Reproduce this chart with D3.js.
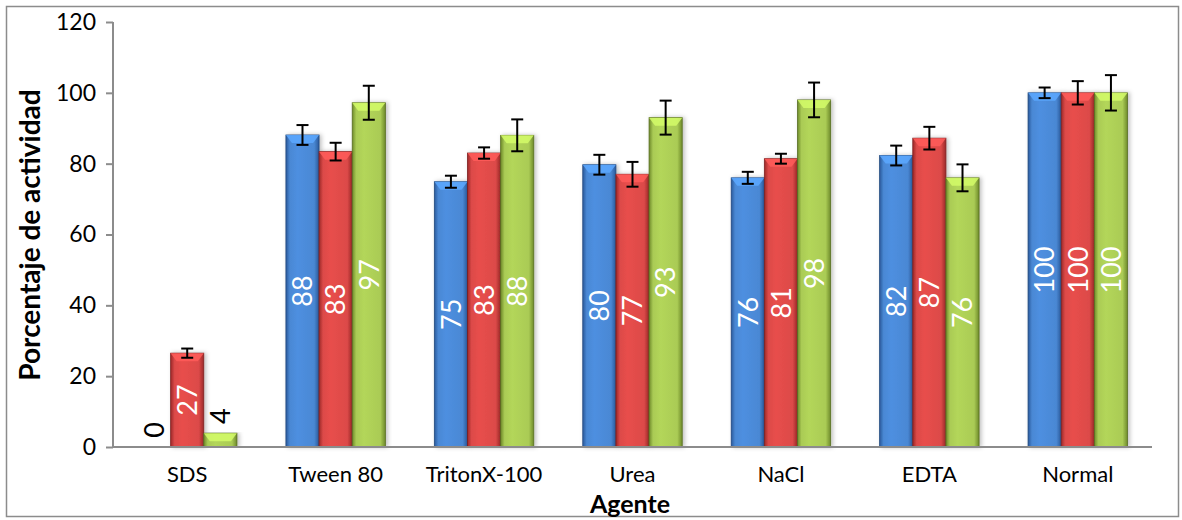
<!DOCTYPE html>
<html><head><meta charset="utf-8">
<script src="https://cdn.jsdelivr.net/npm/d3@7"></script>
<style>body{margin:0;background:#fff}svg{display:block}text{font-family:Lato,"Open Sans",sans-serif}</style>
</head><body>
<svg id="c" width="1182" height="520"></svg>
<script>
const categories = ["SDS","Tween 80","TritonX-100","Urea","NaCl","EDTA","Normal"];
const seriesA = [0, 88.1, 74.9, 79.7, 76, 82.3, 100];
const seriesB = [26.5, 83.4, 83, 77, 81.4, 87.2, 100];
const seriesC = [3.9, 97.2, 88, 93, 98, 76, 100];
const errA = [0, 2.8, 1.7, 2.8, 1.7, 2.8, 1.5];
const errB = [1.3, 2.5, 1.6, 3.5, 1.4, 3.2, 3.3];
const errC = [0, 4.8, 4.5, 4.8, 4.9, 3.8, 5];
const yTicks = [0,20,40,60,80,100,120];
const seriesNames = ["A","B","C"];
const colors = {A:["#2a5a9c","#4a88d4"], B:["#9c2828","#dc4a48"], C:["#6e8a2a","#aacb55"]};

const svg = d3.select("#c");
const m = {l:113, r:1152, t:22, b:447};
svg.append("rect").attr("x",6.5).attr("y",6.5).attr("width",1172).attr("height",510)
  .attr("fill","#fff").attr("stroke","#8c8c8c").attr("stroke-width",1.5);

const x0 = d3.scaleBand().domain(categories).range([m.l,m.r]).paddingInner(0.33).paddingOuter(0.165);
const x1 = d3.scaleBand().domain(seriesNames).range([0,x0.bandwidth()]);
const y = d3.scaleLinear().domain([0,120]).range([m.b,m.t]);

const defs = svg.append("defs");
seriesNames.forEach(s=>{
  const g = defs.append("linearGradient").attr("id","g"+s).attr("x1","0").attr("x2","1").attr("y1","0").attr("y2","0");
  const [dk,lt] = colors[s];
  g.append("stop").attr("offset","0").attr("stop-color",dk);
  g.append("stop").attr("offset","0.12").attr("stop-color",lt);
  g.append("stop").attr("offset","0.35").attr("stop-color",d3.color(lt).brighter(0.15));
  g.append("stop").attr("offset","0.85").attr("stop-color",lt);
  g.append("stop").attr("offset","1").attr("stop-color",dk);
});
const f = defs.append("filter").attr("id","sh").attr("x","-20%").attr("y","-5%").attr("width","140%").attr("height","110%");
f.append("feDropShadow").attr("dx",2).attr("dy",0).attr("stdDeviation",2).attr("flood-color","#000").attr("flood-opacity",0.25);

// axes
const yAxis = svg.append("g").attr("transform",`translate(${m.l},0)`)
  .call(d3.axisLeft(y).tickValues(yTicks).tickSize(7).tickPadding(10));
yAxis.select(".domain").attr("stroke","#8c8c8c").attr("stroke-width",2).attr("d",`M0,${m.t}V${m.b}`);
yAxis.selectAll(".tick line").attr("stroke","#8c8c8c").attr("stroke-width",2);
yAxis.selectAll(".tick text").attr("font-size",23).attr("fill","#000");

const data = categories.map((c,i)=>({c, vals:[
  {s:"A",v:seriesA[i],e:errA[i]},{s:"B",v:seriesB[i],e:errB[i]},{s:"C",v:seriesC[i],e:errC[i]}]}));

const grp = svg.append("g").selectAll("g").data(data).join("g")
  .attr("transform",d=>`translate(${x0(d.c)},0)`);
const bars = grp.selectAll("g").data(d=>d.vals).join("g");
bars.filter(d=>d.v>0).append("rect")
  .attr("x",d=>x1(d.s)).attr("width",x1.bandwidth())
  .attr("y",d=>y(d.v)).attr("height",d=>y(0)-y(d.v))
  .attr("fill",d=>`url(#g${d.s})`).attr("stroke",d=>d3.color(colors[d.s][0]).darker(0.6)).attr("stroke-width",0.8)
  .attr("filter","url(#sh)");
// top bevel
bars.filter(d=>d.v>0).append("path")
  .attr("d",d=>{const x=x1(d.s), w=x1.bandwidth(), t=y(d.v), h=Math.min(8,(y(0)-y(d.v)));
    return `M${x},${t}L${x+w},${t}L${x+w-6},${t+h}L${x+6},${t+h}Z`;})
  .attr("fill",d=>d3.color(colors[d.s][1]).brighter(0.6)).attr("opacity",0.85);

// x axis line
svg.append("line").attr("x1",m.l).attr("x2",m.r).attr("y1",m.b).attr("y2",m.b)
  .attr("stroke","#8c8c8c").attr("stroke-width",2);

// error bars
const eb = bars.filter(d=>d.e>0).append("g").attr("stroke","#000").attr("stroke-width",2);
eb.append("line").attr("x1",d=>x1(d.s)+x1.bandwidth()/2).attr("x2",d=>x1(d.s)+x1.bandwidth()/2)
  .attr("y1",d=>y(d.v+d.e)).attr("y2",d=>y(d.v-d.e));
eb.append("line").attr("x1",d=>x1(d.s)+x1.bandwidth()/2-6).attr("x2",d=>x1(d.s)+x1.bandwidth()/2+6)
  .attr("y1",d=>y(d.v+d.e)).attr("y2",d=>y(d.v+d.e));
eb.append("line").attr("x1",d=>x1(d.s)+x1.bandwidth()/2-6).attr("x2",d=>x1(d.s)+x1.bandwidth()/2+6)
  .attr("y1",d=>y(d.v-d.e)).attr("y2",d=>y(d.v-d.e));

// value labels
const fmt = d3.format(".0f");
bars.append("text")
  .attr("transform",d=>{
    const cx = x1(d.s)+x1.bandwidth()/2;
    const inside = d.v>=15;
    const cy = inside ? (y(d.v)+y(0))/2 : y(d.v)-17;
    return `translate(${cx},${cy}) rotate(-90)`;})
  .attr("text-anchor","middle").attr("dy","0.36em")
  .attr("font-size",27)
  .attr("fill",d=>d.v>=15?"#fff":"#000")
  .text(d=>fmt(d.v));

// category labels
svg.append("g").selectAll("text").data(categories).join("text")
  .attr("x",d=>x0(d)+x0.bandwidth()/2).attr("y",482).attr("text-anchor","middle")
  .attr("font-size",22).attr("fill","#000").text(d=>d);

svg.append("text").attr("x",630).attr("y",513).attr("text-anchor","middle")
  .attr("font-size",25).attr("font-weight","bold").text("Agente");
svg.append("text").attr("transform","translate(40,235) rotate(-90)").attr("text-anchor","middle")
  .attr("font-size",28).attr("font-weight","bold").text("Porcentaje de actividad");
</script>
</body></html>
